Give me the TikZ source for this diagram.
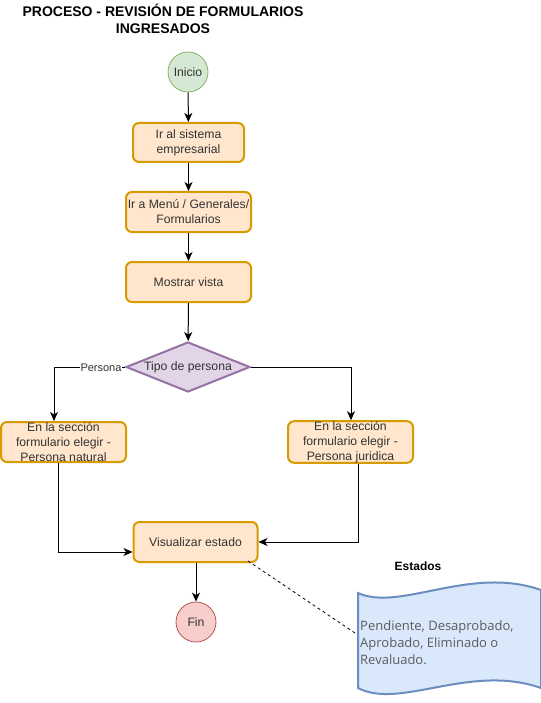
\documentclass[tikz,border=0pt]{standalone}
\usepackage{fontspec}
\setmainfont{Liberation Sans}
\newfontfamily\notefont{Open Sans}
\usetikzlibrary{shapes.geometric,arrows.meta}
\definecolor{orfill}{HTML}{FFE6CC}
\definecolor{ordraw}{HTML}{D79B00}
\definecolor{grfill}{HTML}{D5E8D4}
\definecolor{grdraw}{HTML}{82B366}
\definecolor{rdfill}{HTML}{F8CECC}
\definecolor{rddraw}{HTML}{B85450}
\definecolor{pufill}{HTML}{E1D5E7}
\definecolor{pudraw}{HTML}{9673A6}
\definecolor{blfill}{HTML}{DAE8FC}
\definecolor{bldraw}{HTML}{6C8EBF}
\definecolor{txt}{HTML}{333333}
\tikzset{
  every node/.style={font=\fontsize{12.2}{15}\selectfont, text=txt},
  procbox/.style={draw=ordraw, fill=orfill, line width=2pt, rounded corners=6pt,
    align=center, inner sep=0pt},
  termin/.style={circle, draw, line width=0.8pt, minimum size=40pt, inner sep=0pt},
  decis/.style={diamond, draw=pudraw, fill=pufill, line width=2pt, aspect=2.48,
    minimum width=124pt, minimum height=50pt, inner sep=0pt},
  conn/.style={line width=1pt, -{Stealth[length=9pt,width=8pt,inset=2.5pt]}},
  titletext/.style={font=\bfseries\fontsize{14}{17}\selectfont, text=black, align=center}
}
\begin{document}
\begin{tikzpicture}[x=1pt,y=-1pt]
\useasboundingbox (0,0) rectangle (540,703);
\node[titletext] (title) at (163,18.5) {PROCESO - REVISIÓN DE FORMULARIOS\\INGRESADOS};

\node[termin, draw=grdraw, fill=grfill] (inicio) at (188,72) {Inicio};
\node[procbox, minimum width=111pt, minimum height=39pt] (b1) at (188.5,142.5) {Ir al sistema\\empresarial};
\node[procbox, minimum width=125pt, minimum height=40pt] (b2) at (188.5,212) {Ir a Menú / Generales/\\Formularios};
\node[procbox, minimum width=125pt, minimum height=40pt] (b3) at (188.5,282) {Mostrar vista};
\node[decis] (dec) at (188,367) {Tipo de persona};
\node[procbox, minimum width=125pt, minimum height=40pt] (left) at (63.5,442) {En la sección\\formulario elegir -\\Persona natural};
\node[procbox, minimum width=125pt, minimum height=40pt] (right) at (350.5,442) {En la sección\\formulario elegir -\\Persona juridica};
\node[procbox, minimum width=124pt, minimum height=40pt] (vis) at (195.5,542) {Visualizar estado};
\node[termin, draw=rddraw, fill=rdfill] (fin) at (196,622) {Fin};

\coordinate (lcorner) at (54,367);
\coordinate (rcorner) at (351,367);
\coordinate (lbend) at (58,552);
\coordinate (rbend) at (358,542);

\draw[conn] (inicio) -- (b1);
\draw[conn] (b1) -- (b2);
\draw[conn] (b2) -- (b3);
\draw[conn] (b3) -- (dec);
\draw[conn] (dec.west) -- (lcorner) -- (lcorner |- left.north);
\node[fill=white, inner sep=0.5pt, font=\fontsize{11}{13}\selectfont] (plabel) at (101,367.5) {Persona};
\draw[conn] (dec.east) -- (rcorner) -- (rcorner |- right.north);
\draw[conn] (lbend |- left.south) -- (lbend) -- (vis.west |- lbend);
\draw[conn] (rbend |- right.south) -- (rbend) -- (vis.east);
\draw[conn] (vis.south -| fin) -- (fin);

% note
\node[font=\bfseries\fontsize{12}{15}\selectfont, text=black] (estados) at (418,566) {Estados};
\draw[bldraw, fill=blfill, line width=2pt]
  (358,593) .. controls (400,612) and (470,565) .. (541,590)
  -- (541,688)
  .. controls (470,663) and (400,710) .. (358,688) -- cycle;
\node[anchor=north west, align=left, inner sep=0pt, font=\notefont\fontsize{13}{16.8}\selectfont, text=txt!80!white] (notetext) at (360,620.5) {Pendiente, Desaprobado,\\Aprobado, Eliminado o\\Revaluado.};
\coordinate (notetip) at (355,633);
\draw[dashed, line width=0.8pt, dash pattern=on 3pt off 3pt] (248,561) -- (notetip);
\end{tikzpicture}
\end{document}
